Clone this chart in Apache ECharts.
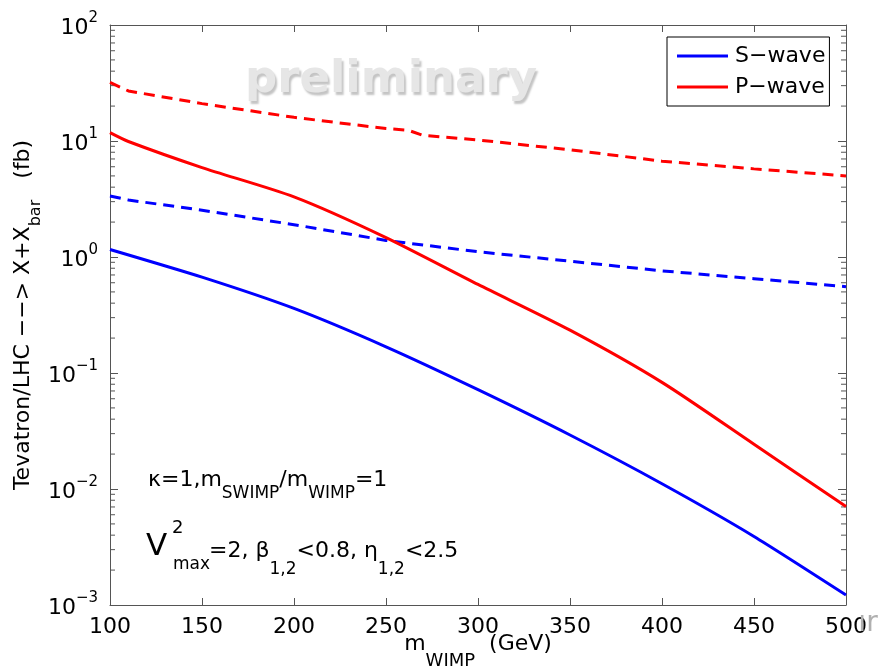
<!DOCTYPE html>
<html><head><meta charset="utf-8">
<script src="https://cdn.jsdelivr.net/npm/echarts@6/dist/echarts.min.js"></script>
<style>html,body{margin:0;padding:0;background:#fff}#c{width:895px;height:669px}</style>
</head><body><div id="c"></div>
<script>
// ---- data ----
const massSolidS = [100, 150, 200, 250, 300, 350, 400, 450, 500];
const sWaveSolid = [1.16, 0.67, 0.36, 0.168, 0.0718, 0.0292, 0.0111, 0.0039, 0.00122];
const massSolidP = [100, 110, 150, 200, 250, 300, 350, 400, 450, 500];
const pWaveSolid = [11.8, 9.9, 5.9, 3.3, 1.47, 0.58, 0.234, 0.083, 0.0243, 0.00705];
const massDashS = [100, 110, 150, 200, 250, 300, 350, 400, 450, 500];
const sWaveDashed = [3.36, 3.1, 2.53, 1.9, 1.39, 1.11, 0.92, 0.76, 0.65, 0.555];
const massDashP = [100, 110, 150, 200, 250, 262, 270, 300, 350, 400, 450, 500];
const pWaveDashed = [32, 27, 21, 16, 12.8, 12.4, 11.2, 10.2, 8.4, 6.7, 5.75, 5.0];
const xTickLabels = ['100', '150', '200', '250', '300', '350', '400', '450', '500'];
const yTickExponents = ['−3', '−2', '−1', '0', '1', '2'];
const minorMultipliers = [2, 3, 4, 5, 6, 7, 8, 9];
const seriesNames = ['S−wave', 'P−wave'];

const FONT = '"DejaVu Sans", sans-serif';
const BLUE = '#0000ff', RED = '#ff0000', AXIS = '#555555';

function pairs(xs, ys) { return xs.map((x, i) => [x, ys[i]]); }
function expNum(s) { return Number(s.replace('−', '-')); }

const chart = echarts.init(document.getElementById('c'), null, { renderer: 'canvas' });

const xMin = Number(xTickLabels[0]), xMax = Number(xTickLabels[xTickLabels.length - 1]);
const xStep = Number(xTickLabels[1]) - Number(xTickLabels[0]);
const eMin = expNum(yTickExponents[0]), eMax = expNum(yTickExponents[yTickExponents.length - 1]);
const yMin = Math.pow(10, eMin), yMax = Math.pow(10, eMax);

// minor tick positions (2..9 x 10^k) — drawn via the library's coordinate system
const minorTickData = [];
for (let e = eMin; e < eMax; e++) {
  minorMultipliers.forEach(m => minorTickData.push([xMin, m * Math.pow(10, e)]));
}

function yLabelFmt(v) {
  const e = Math.round(Math.log10(v));
  return '{b|10}{s|' + yTickExponents[e - eMin] + '}';
}

const lineBase = { type: 'line', showSymbol: false, symbol: 'none', xAxisIndex: 0, yAxisIndex: 0, animation: false };

const option = {
  animation: false,
  backgroundColor: '#ffffff',
  grid: { left: 110, right: 49, top: 25, bottom: 64, containLabel: false, outerBoundsMode: 'none' },
  legend: {
    data: seriesNames,
    orient: 'vertical',
    left: 667, top: 37,
    backgroundColor: '#ffffff',
    borderColor: '#000000', borderWidth: 1, borderRadius: 0,
    padding: [8, 4, 8, 10],
    itemWidth: 51, itemHeight: 3, itemGap: 9,
    icon: 'rect',
    textStyle: { fontFamily: FONT, fontSize: 22, color: '#000', padding: [0, 0, 0, 2] }
  },
  xAxis: [
    {
      type: 'value', min: xMin, max: xMax, interval: xStep, position: 'bottom',
      name: '{m|m}{s|WIMP}{m|  (GeV)}', nameLocation: 'middle', nameGap: 28, nameMoveOverlap: false,
      nameTextStyle: {
        fontFamily: FONT, color: '#000',
        rich: {
          m: { fontFamily: FONT, fontSize: 22, color: '#000', verticalAlign: 'top', lineHeight: 37 },
          s: { fontFamily: FONT, fontSize: 18, color: '#000', verticalAlign: 'bottom' }
        }
      },
      axisLine: { show: true, onZero: false, lineStyle: { color: AXIS, width: 1 } },
      axisTick: { show: true, inside: true, length: 7, lineStyle: { color: AXIS } },
      axisLabel: { show: true, margin: 11, fontFamily: FONT, fontSize: 22, color: '#000',
        formatter: v => xTickLabels[Math.round((v - xMin) / xStep)] },
      splitLine: { show: false }
    },
    {
      type: 'value', min: xMin, max: xMax, interval: xStep, position: 'top',
      axisLine: { show: true, onZero: false, lineStyle: { color: AXIS, width: 1 } },
      axisTick: { show: true, inside: true, length: 7, lineStyle: { color: AXIS } },
      axisLabel: { show: false }, splitLine: { show: false }
    }
  ],
  yAxis: [
    {
      type: 'log', logBase: 10, min: yMin, max: yMax, position: 'left',
      name: '{m|Tevatron/LHC −−> X+X}{s|bar}{m|   (fb)}', nameLocation: 'middle', nameGap: 66, nameRotate: 90,
      nameMoveOverlap: false,
      nameTextStyle: {
        fontFamily: FONT, color: '#000',
        rich: {
          m: { fontFamily: FONT, fontSize: 22, color: '#000', verticalAlign: 'top', lineHeight: 32 },
          s: { fontFamily: FONT, fontSize: 16, color: '#000', verticalAlign: 'bottom' }
        }
      },
      axisLine: { show: true, onZero: false, lineStyle: { color: AXIS, width: 1 } },
      axisTick: { show: true, inside: true, length: 8, lineStyle: { color: AXIS } },
      minorTick: { show: false },
      axisLabel: {
        show: true, margin: 12, formatter: yLabelFmt,
        rich: {
          b: { fontFamily: FONT, fontSize: 22, color: '#000', verticalAlign: 'bottom', lineHeight: 28 },
          s: { fontFamily: FONT, fontSize: 15, color: '#000', verticalAlign: 'top' }
        }
      },
      splitLine: { show: false }, minorSplitLine: { show: false }
    },
    {
      type: 'log', logBase: 10, min: yMin, max: yMax, position: 'right',
      axisLine: { show: true, onZero: false, lineStyle: { color: AXIS, width: 1 } },
      axisTick: { show: true, inside: true, length: 8, lineStyle: { color: AXIS } },
      minorTick: { show: false },
      axisLabel: { show: false }, splitLine: { show: false }, minorSplitLine: { show: false }
    }
  ],
  series: [
    {
      type: 'custom', name: 'minor-ticks', xAxisIndex: 0, yAxisIndex: 0, silent: true, clip: false, z: 2,
      data: minorTickData,
      renderItem: function (params, api) {
        const v = api.value(1);
        const l = api.coord([xMin, v]);
        const r = api.coord([xMax, v]);
        const st = { stroke: AXIS, lineWidth: 1 };
        return {
          type: 'group',
          children: [
            { type: 'line', shape: { x1: l[0], y1: l[1], x2: l[0] + 5, y2: l[1] }, style: st },
            { type: 'line', shape: { x1: r[0], y1: r[1], x2: r[0] - 5, y2: r[1] }, style: st }
          ]
        };
      }
    },
    Object.assign({}, lineBase, { name: 'S-dashed', data: pairs(massDashS, sWaveDashed), z: 3,
      lineStyle: { color: BLUE, width: 3, type: [11, 7] }, itemStyle: { color: BLUE } }),
    Object.assign({}, lineBase, { name: 'P-dashed', data: pairs(massDashP, pWaveDashed), z: 3,
      lineStyle: { color: RED, width: 3, type: [11, 7] }, itemStyle: { color: RED } }),
    Object.assign({}, lineBase, { name: seriesNames[0], data: pairs(massSolidS, sWaveSolid), smooth: 0.2, z: 4,
      lineStyle: { color: BLUE, width: 3 }, itemStyle: { color: BLUE } }),
    Object.assign({}, lineBase, { name: seriesNames[1], data: pairs(massSolidP, pWaveSolid), smooth: 0.25, z: 4,
      lineStyle: { color: RED, width: 3 }, itemStyle: { color: RED } })
  ],
  graphic: [
    { type: 'text', x: 391, y: 80, z: 1, silent: true,
      style: { text: 'preliminary', font: 'bold 45px "DejaVu Sans", sans-serif', fill: '#e6e6e6',
        textAlign: 'center', verticalAlign: 'middle',
        textShadowColor: '#c4c4c4', textShadowOffsetX: 2, textShadowOffsetY: 3, textShadowBlur: 2 } },
    { type: 'text', x: 868, y: 624, z: 1, silent: true,
      style: { text: 'ır', font: '28px "DejaVu Sans", sans-serif', fill: '#b0b0b0', textAlign: 'center', verticalAlign: 'middle' } },
    { type: 'text', x: 148, y: 469, z: 10, silent: true,
      style: { text: '{m|κ=1,m}{s|SWIMP}{m|/m}{s|WIMP}{m|=1}', verticalAlign: 'top', textAlign: 'left',
        rich: {
          m: { fontFamily: FONT, fontSize: 22, fill: '#000', verticalAlign: 'top', lineHeight: 33 },
          s: { fontFamily: FONT, fontSize: 17, fill: '#000', verticalAlign: 'bottom' }
        } } },
    { type: 'text', x: 146, y: 547, z: 10, silent: true,
      style: { text: 'V', font: '31px "DejaVu Sans", sans-serif', fill: '#000', textAlign: 'left', verticalAlign: 'middle' } },
    { type: 'text', x: 172, y: 528, z: 10, silent: true,
      style: { text: '2', font: '18px "DejaVu Sans", sans-serif', fill: '#000', textAlign: 'left', verticalAlign: 'middle' } },
    { type: 'text', x: 173, y: 565, z: 10, silent: true,
      style: { text: 'max', font: '17px "DejaVu Sans", sans-serif', fill: '#000', textAlign: 'left', verticalAlign: 'middle' } },
    { type: 'text', x: 209, y: 540, z: 10, silent: true,
      style: { text: '{m|=2, β}{s|1,2}{m|<0.8, η}{s|1,2}{m|<2.5}', verticalAlign: 'top', textAlign: 'left',
        rich: {
          m: { fontFamily: FONT, fontSize: 22, fill: '#000', verticalAlign: 'top', lineHeight: 38 },
          s: { fontFamily: FONT, fontSize: 17, fill: '#000', verticalAlign: 'bottom' }
        } } }
  ]
};
chart.setOption(option);
</script>
</body></html>
